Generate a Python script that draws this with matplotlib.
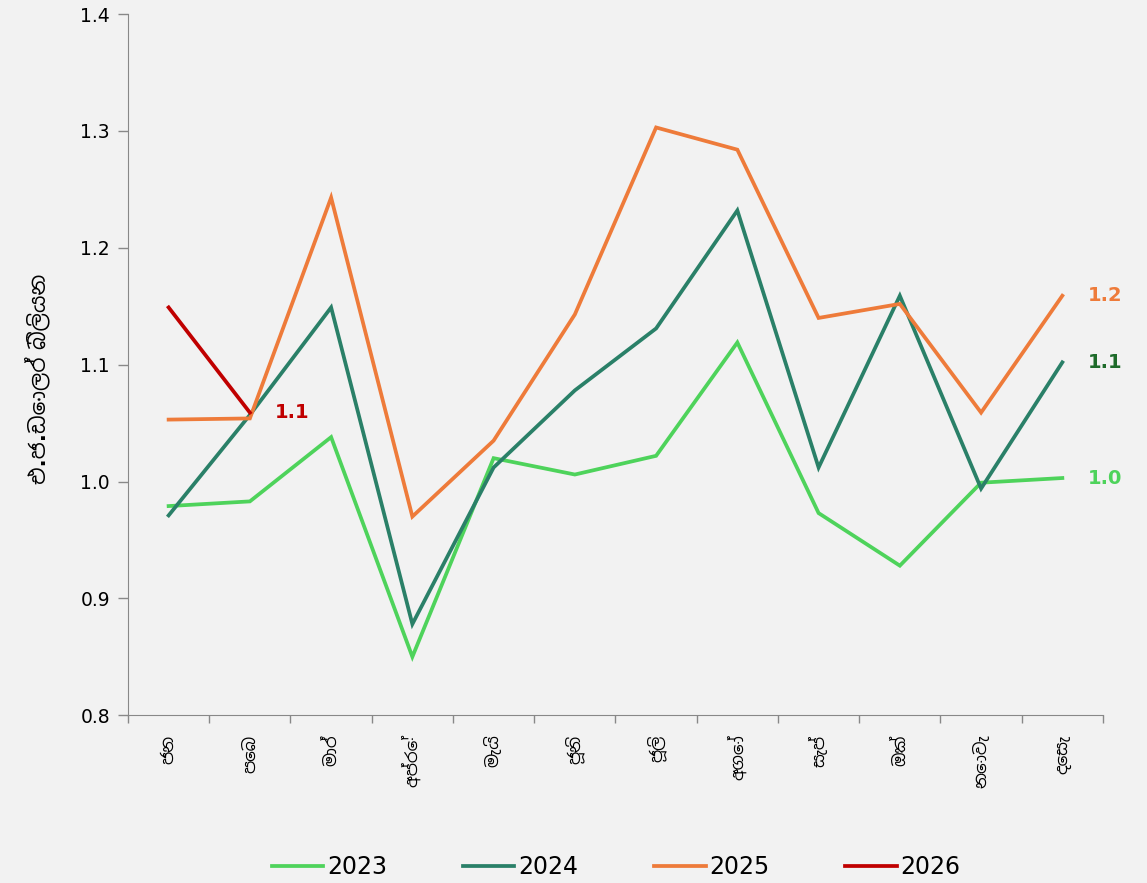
import matplotlib
matplotlib.use("Agg")
import matplotlib.pyplot as plt
from matplotlib import font_manager
from matplotlib.ticker import FixedLocator, NullFormatter

months = ["ජන", "පෙබ", "මාර්", "අප්‍රේ", "මැයි", "ජූනි", "ජූලි", "අගෝ", "සැප්", "ඔක්", "නොවැ", "දෙසැ"]
y2023 = [0.979, 0.983, 1.038, 0.850, 1.020, 1.006, 1.022, 1.119, 0.973, 0.928, 0.999, 1.003]
y2024 = [0.971, 1.057, 1.149, 0.878, 1.012, 1.078, 1.131, 1.232, 1.012, 1.159, 0.994, 1.102]
y2025 = [1.053, 1.054, 1.243, 0.970, 1.035, 1.143, 1.303, 1.284, 1.140, 1.152, 1.059, 1.159]
y2026 = [1.149, 1.059]
series_names = ["2023", "2024", "2025", "2026"]
colors = ["#4ED35B", "#2A8068", "#EE7B3A", "#C00000"]
ylabel = "එ.ජ.ඩොලර් බිලියන"

# find fonts with Sinhala glyphs, prefer proportional sans ones
families = []
for f in font_manager.fontManager.ttflist:
    try:
        cm = matplotlib.ft2font.FT2Font(f.fname).get_charmap()
        if 0x0DA2 in cm and f.name not in families:
            families.append(f.name)
    except Exception:
        pass
families.sort(key=lambda n: (('Mono' in n) or ('Code' in n), 'Sans' not in n))
plt.rcParams['font.family'] = ['DejaVu Sans'] + families[:1]

bg = "#F2F2F2"
fig = plt.figure(figsize=(11.47, 8.83), dpi=100, facecolor=bg)
ax = fig.add_axes([0.1116, 0.190, 0.850, 0.794])
ax.set_facecolor(bg)

x = list(range(len(months)))
data = [y2023, y2024, y2025, y2026]
for name, vals, c in zip(series_names, data, colors):
    ax.plot(x[:len(vals)], vals, color=c, lw=2.7, label=name, solid_joinstyle='miter')

ax.set_xlim(-0.5, len(months) - 0.5)
ax.set_ylim(0.8, 1.4)
ax.set_yticks([0.8, 0.9, 1.0, 1.1, 1.2, 1.3, 1.4])
ax.set_yticklabels([f"{v:.1f}" for v in [0.8, 0.9, 1.0, 1.1, 1.2, 1.3, 1.4]], fontsize=13.5)
ax.set_xticks(x)
ax.set_xticklabels(months, rotation=90, fontsize=12)
ax.tick_params(axis='x', which='major', length=0, pad=14)
ax.xaxis.set_minor_locator(FixedLocator([i - 0.5 for i in range(len(months) + 1)]))
ax.xaxis.set_minor_formatter(NullFormatter())
ax.tick_params(axis='x', which='minor', length=6, color="#888888", width=1)
ax.tick_params(axis='y', length=7, color="#888888", width=1, pad=6)
for s in ['top', 'right']:
    ax.spines[s].set_visible(False)
for s in ['left', 'bottom']:
    ax.spines[s].set_color("#888888")
ax.set_ylabel(ylabel, fontsize=15.5, fontweight='bold', labelpad=20)
ax.yaxis.set_label_coords(-0.08, 0.48)

# end labels
ax.annotate(f"{y2026[-1]:.1f}", (1, y2026[-1]), xytext=(18, 0), textcoords='offset points',
            color="#C00000", fontsize=14, fontweight='bold', va='center', ha='left')
ax.annotate(f"{y2025[-1]:.1f}", (11, y2025[-1]), xytext=(18, 0), textcoords='offset points',
            color="#EE7B3A", fontsize=14, fontweight='bold', va='center', ha='left', annotation_clip=False)
ax.annotate(f"{y2024[-1]:.1f}", (11, y2024[-1]), xytext=(18, 0), textcoords='offset points',
            color="#1E6B2A", fontsize=14, fontweight='bold', va='center', ha='left', annotation_clip=False)
ax.annotate(f"{y2023[-1]:.1f}", (11, y2023[-1]), xytext=(18, 0), textcoords='offset points',
            color="#4ED35B", fontsize=14, fontweight='bold', va='center', ha='left', annotation_clip=False)

fig.legend(loc='lower center', bbox_to_anchor=(0.537, -0.02), ncol=4, frameon=False,
           fontsize=17, handlelength=2.2, columnspacing=3.2, handletextpad=0.15)

fig.savefig("out.png", dpi=100, facecolor=bg)
